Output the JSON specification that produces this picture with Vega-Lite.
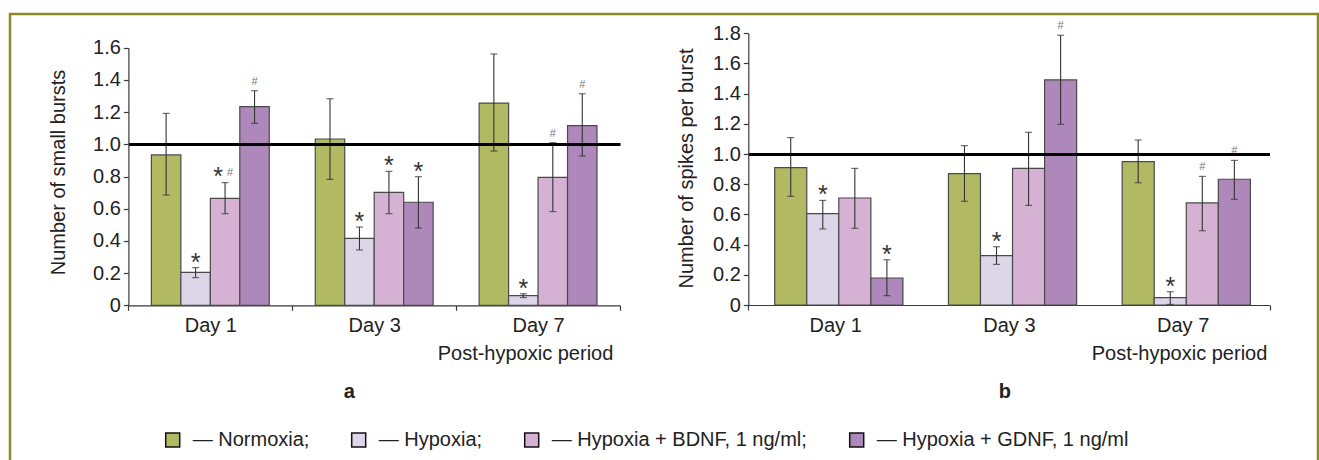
{
  "$schema": "https://vega.github.io/schema/vega-lite/v6.json",
  "width": 1308,
  "height": 460,
  "autosize": {"type": "none"},
  "padding": {"left": 10, "top": 14, "right": 1, "bottom": 0},
  "background": "#ffffff",
  "config": {
    "font": "Liberation Sans",
    "view": {"stroke": "#8c8a24", "strokeWidth": 2.5},
    "axis": {
      "labelFont": "Liberation Sans", "labelFontSize": 20, "labelColor": "#222222",
      "titleFont": "Liberation Sans", "titleFontSize": 20, "titleFontWeight": "normal", "titleColor": "#222222",
      "domainColor": "#3a3a3a", "tickColor": "#3a3a3a", "domainWidth": 1.2, "tickWidth": 1.2, "tickSize": 5,
      "grid": false
    },
    "legend": {
      "title": null, "direction": "horizontal", "symbolType": "square", "symbolSize": 196,
      "symbolStrokeColor": "#111111", "symbolStrokeWidth": 1.5, "symbolOpacity": 1,
      "labelFont": "Liberation Sans", "labelFontSize": 20, "labelColor": "#222222",
      "labelOffset": 10, "columnPadding": 39, "labelLimit": 500, "padding": 0
    }
  },
  "datasets": {
    "a": [
      {"day": "Day 1", "cond": "Normoxia", "mean": 0.934, "lo": 0.685, "hi": 1.192, "ann": ""},
      {"day": "Day 1", "cond": "Hypoxia", "mean": 0.205, "lo": 0.172, "hi": 0.234, "ann": "*"},
      {"day": "Day 1", "cond": "Hypoxia + BDNF, 1 ng/ml", "mean": 0.664, "lo": 0.569, "hi": 0.762, "ann": "*#"},
      {"day": "Day 1", "cond": "Hypoxia + GDNF, 1 ng/ml", "mean": 1.234, "lo": 1.13, "hi": 1.333, "ann": "#"},
      {"day": "Day 3", "cond": "Normoxia", "mean": 1.033, "lo": 0.782, "hi": 1.283, "ann": ""},
      {"day": "Day 3", "cond": "Hypoxia", "mean": 0.416, "lo": 0.344, "hi": 0.486, "ann": "*"},
      {"day": "Day 3", "cond": "Hypoxia + BDNF, 1 ng/ml", "mean": 0.702, "lo": 0.569, "hi": 0.832, "ann": "*"},
      {"day": "Day 3", "cond": "Hypoxia + GDNF, 1 ng/ml", "mean": 0.64, "lo": 0.48, "hi": 0.799, "ann": "*"},
      {"day": "Day 7", "cond": "Normoxia", "mean": 1.256, "lo": 0.958, "hi": 1.561, "ann": ""},
      {"day": "Day 7", "cond": "Hypoxia", "mean": 0.06, "lo": 0.048, "hi": 0.072, "ann": "*"},
      {"day": "Day 7", "cond": "Hypoxia + BDNF, 1 ng/ml", "mean": 0.795, "lo": 0.582, "hi": 1.01, "ann": "#"},
      {"day": "Day 7", "cond": "Hypoxia + GDNF, 1 ng/ml", "mean": 1.116, "lo": 0.927, "hi": 1.314, "ann": "#"}
    ],
    "b": [
      {"day": "Day 1", "cond": "Normoxia", "mean": 0.91, "lo": 0.72, "hi": 1.109, "ann": ""},
      {"day": "Day 1", "cond": "Hypoxia", "mean": 0.605, "lo": 0.504, "hi": 0.693, "ann": "*"},
      {"day": "Day 1", "cond": "Hypoxia + BDNF, 1 ng/ml", "mean": 0.709, "lo": 0.508, "hi": 0.905, "ann": ""},
      {"day": "Day 1", "cond": "Hypoxia + GDNF, 1 ng/ml", "mean": 0.179, "lo": 0.062, "hi": 0.3, "ann": "*"},
      {"day": "Day 3", "cond": "Normoxia", "mean": 0.87, "lo": 0.687, "hi": 1.056, "ann": ""},
      {"day": "Day 3", "cond": "Hypoxia", "mean": 0.327, "lo": 0.269, "hi": 0.386, "ann": "*"},
      {"day": "Day 3", "cond": "Hypoxia + BDNF, 1 ng/ml", "mean": 0.905, "lo": 0.66, "hi": 1.144, "ann": ""},
      {"day": "Day 3", "cond": "Hypoxia + GDNF, 1 ng/ml", "mean": 1.491, "lo": 1.197, "hi": 1.787, "ann": "#"},
      {"day": "Day 7", "cond": "Normoxia", "mean": 0.95, "lo": 0.81, "hi": 1.093, "ann": ""},
      {"day": "Day 7", "cond": "Hypoxia", "mean": 0.049, "lo": 0.004, "hi": 0.088, "ann": "*"},
      {"day": "Day 7", "cond": "Hypoxia + BDNF, 1 ng/ml", "mean": 0.676, "lo": 0.492, "hi": 0.852, "ann": "#"},
      {"day": "Day 7", "cond": "Hypoxia + GDNF, 1 ng/ml", "mean": 0.833, "lo": 0.7, "hi": 0.958, "ann": "#"}
    ]
  },
  "layer": [
    {
      "layer": [
        {
          "data": {"name": "a"},
          "encoding": {
            "x": {"field": "day", "type": "nominal",
              "scale": {"domain": ["Day 1", "Day 3", "Day 7"], "range": [118.4, 610], "paddingInner": 0, "paddingOuter": 0},
              "axis": {"orient": "bottom", "offset": -168.7, "tickBand": "extent", "labelPadding": 5, "labelAngle": 0,
                "title": "Post-hypoxic period", "titleX": 515, "titleY": 48, "titleAlign": "center", "titleBaseline": "middle"}},
            "xOffset": {"field": "cond", "type": "nominal",
              "scale": {"domain": ["Normoxia", "Hypoxia", "Hypoxia + BDNF, 1 ng/ml", "Hypoxia + GDNF, 1 ng/ml"], "paddingInner": 0, "paddingOuter": 0.78}},
            "y": {"field": "mean", "type": "quantitative",
              "scale": {"domain": [0, 1.6], "range": [291.3, 33.7], "nice": false},
              "axis": {"orient": "left", "offset": -118.4, "values": [0, 0.2, 0.4, 0.6, 0.8, 1, 1.2, 1.4, 1.6],
                "labelExpr": "datum.value == 0 ? '0' : format(datum.value, '.1f')", "labelPadding": 3, "zindex": 1,
                "title": "Number of small bursts", "titleX": -69.4, "titleY": 158, "titleAngle": -90, "titleAlign": "center", "titleBaseline": "middle",
                "grid": true, "gridColor": "#000000", "gridWidth": 3,
                "gridOpacity": {"condition": {"test": "datum.value === 1", "value": 1}, "value": 0}}}
          },
          "layer": [
            {"mark": {"type": "bar", "stroke": "#4a4a4a", "strokeWidth": 1.2},
             "encoding": {"color": {"field": "cond", "type": "nominal",
               "scale": {"domain": ["Normoxia", "Hypoxia", "Hypoxia + BDNF, 1 ng/ml", "Hypoxia + GDNF, 1 ng/ml"], "range": ["#b1ba62", "#ddd5e8", "#d5b1d4", "#ae88bb"]},
               "legend": {"orient": "none", "legendX": 152.7, "legendY": 416, "labelExpr": "'— ' + datum.label + (datum.label === 'Hypoxia + GDNF, 1 ng/ml' ? '' : ';')"}}}},
            {"mark": {"type": "rule", "color": "#333333", "strokeWidth": 1.1},
             "encoding": {"y": {"field": "lo", "type": "quantitative"}, "y2": {"field": "hi"}}},
            {"mark": {"type": "tick", "orient": "horizontal", "color": "#333333", "size": 7, "thickness": 1.2},
             "encoding": {"y": {"field": "lo", "type": "quantitative"}}},
            {"mark": {"type": "tick", "orient": "horizontal", "color": "#333333", "size": 7, "thickness": 1.2},
             "encoding": {"y": {"field": "hi", "type": "quantitative"}}},
            {"transform": [{"filter": "datum.ann === '*'"}],
             "mark": {"type": "text", "text": "*", "fontSize": 25, "color": "#333333", "baseline": "alphabetic", "dy": 3},
             "encoding": {"y": {"field": "hi", "type": "quantitative"}}},
            {"transform": [{"filter": "datum.ann === '#'"}],
             "mark": {"type": "text", "text": "#", "fontSize": 11, "color": "#777777", "baseline": "alphabetic", "dy": -6},
             "encoding": {"y": {"field": "hi", "type": "quantitative"}}},
            {"transform": [{"filter": "datum.ann === '*#'"}],
             "mark": {"type": "text", "text": "*", "fontSize": 25, "color": "#333333", "baseline": "alphabetic", "dx": -7, "dy": 2},
             "encoding": {"y": {"field": "hi", "type": "quantitative"}}},
            {"transform": [{"filter": "datum.ann === '*#'"}],
             "mark": {"type": "text", "text": "#", "fontSize": 11, "color": "#777777", "baseline": "alphabetic", "dx": 5, "dy": -7},
             "encoding": {"y": {"field": "hi", "type": "quantitative"}}}
          ]
        }
      ]
    },
    {
      "data": {"values": [{"lab": "a"}]},
      "mark": {"type": "text", "fontWeight": "bold", "fontSize": 20, "color": "#222222", "baseline": "middle", "dx": -25, "dy": 87},
      "encoding": {
        "text": {"field": "lab", "type": "nominal"},
        "x": {"datum": "Day 3", "type": "nominal", "scale": {"domain": ["Day 1", "Day 3", "Day 7"], "range": [118.4, 610], "paddingInner": 0, "paddingOuter": 0}, "axis": null},
        "y": {"datum": 0, "type": "quantitative", "scale": {"domain": [0, 1.6], "range": [291.3, 33.7], "nice": false}, "axis": null}
      }
    },
    {
      "data": {"values": [{"lab": "b"}]},
      "mark": {"type": "text", "fontWeight": "bold", "fontSize": 20, "color": "#222222", "baseline": "middle", "dx": -4, "dy": 87},
      "encoding": {
        "text": {"field": "lab", "type": "nominal"},
        "x": {"datum": "Day 3", "type": "nominal", "scale": {"domain": ["Day 1", "Day 3", "Day 7"], "range": [738.3, 1259.5], "paddingInner": 0, "paddingOuter": 0}, "axis": null},
        "y": {"datum": 0, "type": "quantitative", "scale": {"domain": [0, 1.8], "range": [291, 19.3], "nice": false}, "axis": null}
      }
    },
    {
      "layer": [
        {
          "data": {"name": "b"},
          "encoding": {
            "x": {"field": "day", "type": "nominal",
              "scale": {"domain": ["Day 1", "Day 3", "Day 7"], "range": [738.3, 1259.5], "paddingInner": 0, "paddingOuter": 0},
              "axis": {"orient": "bottom", "offset": -169, "tickBand": "extent", "labelPadding": 5, "labelAngle": 0,
                "tickOpacity": {"condition": {"test": "datum.value === 'Day 1' || datum.value === 'Day 3'", "value": 0}, "value": 1},
                "title": "Post-hypoxic period", "titleX": 1169, "titleY": 48, "titleAlign": "center", "titleBaseline": "middle"}},
            "xOffset": {"field": "cond", "type": "nominal",
              "scale": {"domain": ["Normoxia", "Hypoxia", "Hypoxia + BDNF, 1 ng/ml", "Hypoxia + GDNF, 1 ng/ml"], "paddingInner": 0, "paddingOuter": 0.71, "align": 0.58}},
            "y": {"field": "mean", "type": "quantitative",
              "scale": {"domain": [0, 1.8], "range": [291, 19.3], "nice": false},
              "axis": {"orient": "left", "offset": -738.3, "values": [0, 0.2, 0.4, 0.6, 0.8, 1, 1.2, 1.4, 1.6, 1.8],
                "labelExpr": "datum.value == 0 ? '0' : format(datum.value, '.1f')", "labelPadding": 3, "zindex": 1,
                "title": "Number of spikes per burst", "titleX": -62.3, "titleY": 154, "titleAngle": -90, "titleAlign": "center", "titleBaseline": "middle",
                "grid": true, "gridColor": "#000000", "gridWidth": 3,
                "gridOpacity": {"condition": {"test": "datum.value === 1", "value": 1}, "value": 0}}}
          },
          "layer": [
            {"mark": {"type": "bar", "stroke": "#4a4a4a", "strokeWidth": 1.2},
             "encoding": {"color": {"field": "cond", "type": "nominal",
               "scale": {"domain": ["Normoxia", "Hypoxia", "Hypoxia + BDNF, 1 ng/ml", "Hypoxia + GDNF, 1 ng/ml"], "range": ["#b1ba62", "#ddd5e8", "#d5b1d4", "#ae88bb"]},
               "legend": {"orient": "none", "legendX": 152.7, "legendY": 416, "labelExpr": "'— ' + datum.label + (datum.label === 'Hypoxia + GDNF, 1 ng/ml' ? '' : ';')"}}}},
            {"mark": {"type": "rule", "color": "#333333", "strokeWidth": 1.1},
             "encoding": {"y": {"field": "lo", "type": "quantitative"}, "y2": {"field": "hi"}}},
            {"mark": {"type": "tick", "orient": "horizontal", "color": "#333333", "size": 7, "thickness": 1.2},
             "encoding": {"y": {"field": "lo", "type": "quantitative"}}},
            {"mark": {"type": "tick", "orient": "horizontal", "color": "#333333", "size": 7, "thickness": 1.2},
             "encoding": {"y": {"field": "hi", "type": "quantitative"}}},
            {"transform": [{"filter": "datum.ann === '*'"}],
             "mark": {"type": "text", "text": "*", "fontSize": 25, "color": "#333333", "baseline": "alphabetic", "dy": 3},
             "encoding": {"y": {"field": "hi", "type": "quantitative"}}},
            {"transform": [{"filter": "datum.ann === '#'"}],
             "mark": {"type": "text", "text": "#", "fontSize": 11, "color": "#777777", "baseline": "alphabetic", "dy": -6},
             "encoding": {"y": {"field": "hi", "type": "quantitative"}}}
          ]
        }
      ]
    }
  ],
  "resolve": {
    "scale": {"x": "independent", "y": "independent", "xOffset": "independent"},
    "axis": {"x": "independent", "y": "independent"}
  }
}
